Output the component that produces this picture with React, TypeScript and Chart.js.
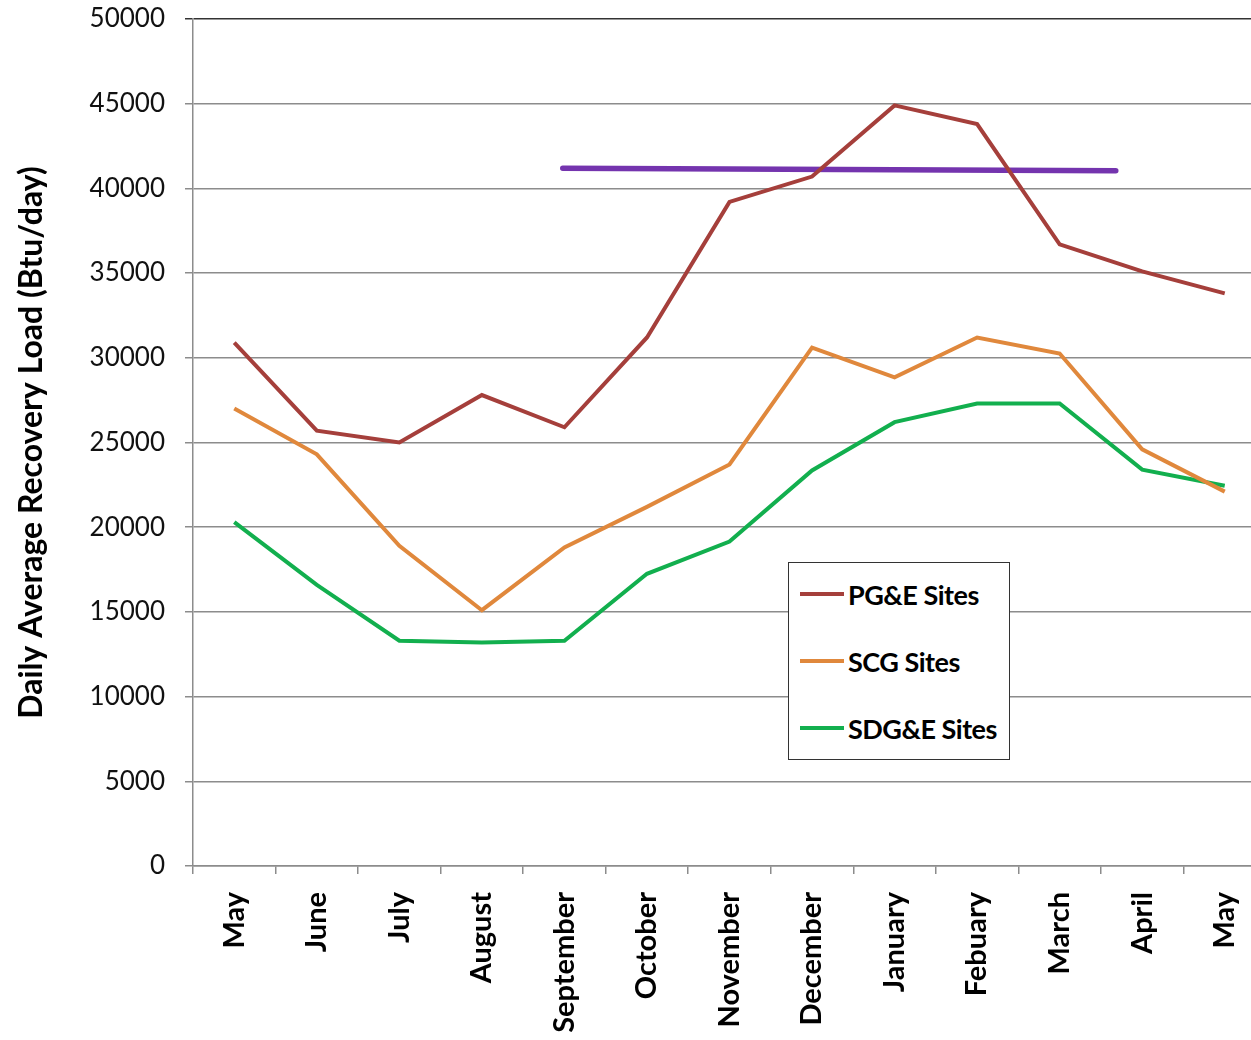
import React, { useEffect, useRef } from "react";
import { Chart, registerables } from "chart.js";

Chart.register(...registerables);

const categories = ["May", "June", "July", "August", "September", "October", "November", "December", "January", "Febuary", "March", "April", "May"];
const seriesNames = ["PG&E Sites", "SCG Sites", "SDG&E Sites"];
const pgeValues = [30900, 25700, 25000, 27800, 25900, 31200, 39200, 40700, 44900, 43800, 36700, 35100, 33800];
const scgValues = [27000, 24300, 18900, 15100, 18800, 21200, 23700, 30600, 28850, 31200, 30250, 24600, 22100];
const sdgeValues = [20300, 16600, 13300, 13200, 13300, 17250, 19150, 23350, 26200, 27300, 27300, 23400, 22450];
const markerX = [3.98, 10.68];
const markerY = [41190, 41040];
const yTicks = [0, 5000, 10000, 15000, 20000, 25000, 30000, 35000, 40000, 45000, 50000];
const yTitle = "Daily Average Recovery Load (Btu/day)";

const seriesColors = ["#A53F3B", "#E0883C", "#12AF4E"];
const markerColor = "#7434AE";

const CANVAS_W = 1286;
const CANVAS_H = 1040;

export default function App() {
  const ref = useRef<HTMLCanvasElement | null>(null);

  useEffect(() => {
    if (!ref.current) return;
    const values = [pgeValues, scgValues, sdgeValues];
    const chart = new Chart(ref.current, {
      type: "line",
      data: {
        labels: categories,
        datasets: [
          ...values.map((v, i) => ({
            label: seriesNames[i],
            data: v,
            borderColor: seriesColors[i],
            backgroundColor: seriesColors[i],
            borderWidth: 4,
            pointRadius: 0,
            tension: 0,
            fill: false,
            order: i,
          })),
          {
            label: "marker",
            data: markerX.map((x, i) => ({ x, y: markerY[i] })),
            xAxisID: "x2",
            borderColor: markerColor,
            backgroundColor: markerColor,
            borderWidth: 5.5,
            borderCapStyle: "round",
            pointRadius: 0,
            tension: 0,
            fill: false,
            order: 10,
          } as any,
        ],
      },
      options: {
        animation: false,
        responsive: false,
        devicePixelRatio: 1,
        layout: { padding: { left: 0, top: 19, right: 20, bottom: 0 } },
        plugins: {
          legend: { display: false },
          tooltip: { enabled: false },
          title: { display: false },
        },
        scales: {
          x: {
            type: "category",
            offset: true,
            grid: {
              display: true,
              drawOnChartArea: false,
              drawTicks: true,
              tickLength: 8,
              offset: true,
              color: "#8c8c8c",
              lineWidth: 1.5,
            },
            border: { display: true, color: "#8c8c8c", width: 1.5 },
            ticks: {
              autoSkip: false,
              maxRotation: 90,
              minRotation: 90,
              padding: 18,
              color: "#000",
              font: { family: "Lato", size: 29, weight: "bold" },
            },
            afterFit: (scale: any) => {
              scale.height = CANVAS_H - 866;
              scale.paddingLeft = 0;
              scale.paddingRight = 0;
            },
          },
          x2: {
            type: "linear",
            display: false,
            min: -0.5,
            max: categories.length - 0.5,
          },
          y: {
            type: "linear",
            min: 0,
            max: 50000,
            afterBuildTicks: (scale: any) => {
              scale.ticks = yTicks.map((v) => ({ value: v }));
            },
            grid: {
              color: (ctx: any) => (ctx.tick && ctx.tick.value === 50000 ? "#333" : "#8c8c8c"),
              lineWidth: 1.5,
              drawTicks: true,
              tickLength: 8,
            },
            border: { display: true, color: "#8c8c8c", width: 1.5 },
            ticks: {
              padding: 20,
              color: "#111",
              font: { family: "Lato", size: 26 },
              callback: (v: any) => String(v),
            },
            title: {
              display: true,
              text: yTitle,
              color: "#000",
              font: { family: "Lato", size: 32, weight: "bold" },
              padding: { top: 12, bottom: 0 },
            },
            afterFit: (scale: any) => {
              scale.width = 193;
              scale.paddingTop = 0;
              scale.paddingBottom = 0;
            },
          },
        },
      },
    });
    return () => chart.destroy();
  }, []);

  const rowY = [593, 660, 727];

  return (
    <div
      style={{
        position: "absolute",
        left: 0,
        top: 0,
        width: 1251,
        height: 1040,
        overflow: "hidden",
        background: "#fff",
      }}
    >
      <canvas
        ref={ref}
        width={CANVAS_W}
        height={CANVAS_H}
        style={{ display: "block", width: CANVAS_W, height: CANVAS_H }}
      />
      <div
        style={{
          position: "absolute",
          left: 788,
          top: 562,
          width: 220,
          height: 196,
          border: "1.5px solid #333",
          background: "#fff",
          boxSizing: "content-box",
        }}
      >
        {seriesNames.map((name, i) => (
          <div
            key={name}
            style={{
              position: "absolute",
              left: 11,
              top: rowY[i] - 562 - 20,
              height: 40,
              display: "flex",
              alignItems: "center",
              whiteSpace: "nowrap",
            }}
          >
            <span
              style={{
                display: "inline-block",
                width: 44,
                height: 4,
                background: seriesColors[i],
                marginRight: 4,
              }}
            />
            <span
              style={{
                fontFamily: "Lato",
                fontWeight: "bold",
                fontSize: 27,
                color: "#000",
                letterSpacing: -0.5,
              }}
            >
              {name}
            </span>
          </div>
        ))}
      </div>
    </div>
  );
}
